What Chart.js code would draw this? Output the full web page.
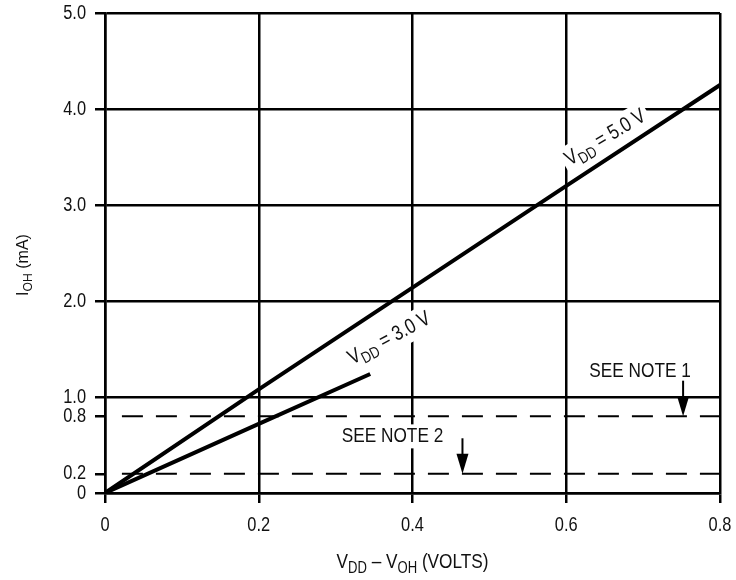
<!DOCTYPE html>
<html>
<head>
<meta charset="utf-8">
<script src="https://cdn.jsdelivr.net/npm/chart.js@4/dist/chart.umd.min.js"></script>
<style>
  html, body { margin: 0; padding: 0; background: #fff; }
  #wrap { width: 736px; height: 580px; }
</style>
</head>
<body>
<div id="wrap"><canvas id="myChart"></canvas></div>
<script>
// axis ticks
const xTicks = [0, 0.2, 0.4, 0.6, 0.8];
const yTicks = [0, 0.2, 0.8, 1.0, 2.0, 3.0, 4.0, 5.0];

// I_OH vs V_DD - V_OH
const vdd5X = [0, 0.2, 0.4, 0.6, 0.8];
const vdd5Y = [0, 1.08, 2.14, 3.2, 4.25];
const vdd3X = [0, 0.2, 0.345];
const vdd3Y = [0, 0.72, 1.24];

// dashed note levels (NOTE 1, NOTE 2) and their x span
const noteLevels = [0.8, 0.2];
const noteSpan = [0.022, 0.8];

// no narrow font installed, so squeeze Liberation Sans horizontally
const FAMILY = "'Liberation Sans', Arial, sans-serif";
const SQUEEZE = 0.82;

const toPoints = (xs, ys) => xs.map((v, i) => ({ x: v, y: ys[i] }));
const fmt = v => v === 0 ? '0' : v.toFixed(1);

// label placement (data coords) and rotation
const curveLabels = [
    { parts: [['V'], ['DD', 1], [' = 5.0 V']], x: 0.651, y: 3.70, angle: -31 },
    { parts: [['V'], ['DD', 1], [' = 3.0 V']], x: 0.370, y: 1.61, angle: -28 }
];
const notes = [
    { text: 'SEE NOTE 1', x: 0.696, y: 1.27, arrowX: 0.752, arrowFrom: 1.17, level: noteLevels[0] },
    { text: 'SEE NOTE 2', x: 0.374, y: 0.59, arrowX: 0.465, arrowFrom: 0.57, level: noteLevels[1] }
];

function richWidth(ctx, parts, size) {
    let w = 0;
    parts.forEach(p => {
        ctx.font = (p[1] ? size * 0.76 : size) + 'px ' + FAMILY;
        w += ctx.measureText(p[0]).width;
    });
    return w;
}

// draws text centred on (cx, cy); parts flagged 1 are subscripts
function drawRich(ctx, parts, cx, cy, size, sx, align) {
    const w = richWidth(ctx, parts, size);
    ctx.save();
    ctx.translate(cx, cy);
    ctx.scale(sx, 1);
    let xx = align === 'right' ? -w : (align === 'left' ? 0 : -w / 2);
    ctx.textAlign = 'left';
    ctx.textBaseline = 'middle';
    parts.forEach(p => {
        ctx.font = (p[1] ? size * 0.76 : size) + 'px ' + FAMILY;
        ctx.fillText(p[0], xx, p[1] ? size * 0.3 : 0);
        xx += ctx.measureText(p[0]).width;
    });
    ctx.restore();
    return w * sx;
}

const overlay = {
    id: 'overlay',
    beforeDatasetsDraw(chart) {
        const { ctx, scales: { x, y } } = chart;
        ctx.save();
        ctx.fillStyle = '#fff';
        curveLabels.forEach(l => {
            const w = richWidth(ctx, l.parts, 21) * SQUEEZE;
            ctx.save();
            ctx.translate(x.getPixelForValue(l.x), y.getPixelForValue(l.y));
            ctx.rotate(l.angle * Math.PI / 180);
            ctx.fillRect(-w / 2 - 4, -14, w + 8, 28);
            ctx.restore();
        });
        notes.forEach(n => {
            const w = richWidth(ctx, [[n.text]], 21) * SQUEEZE;
            ctx.fillRect(x.getPixelForValue(n.x) - w / 2 - 4, y.getPixelForValue(n.y) - 12, w + 8, 24);
        });
        ctx.restore();
    },
    afterDatasetsDraw(chart) {
        const { ctx, scales: { x, y } } = chart;
        const ca = chart.chartArea;
        ctx.save();
        ctx.fillStyle = '#111';
        ctx.strokeStyle = '#000';

        // tick labels from the library's scales
        x.ticks.forEach(t => drawRich(ctx, [[fmt(t.value)]], x.getPixelForValue(t.value), 525, 20, SQUEEZE, 'center'));
        y.ticks.forEach(t => drawRich(ctx, [[fmt(t.value)]], ca.left - 19, y.getPixelForValue(t.value), 20, SQUEEZE, 'right'));

        curveLabels.forEach(l => {
            ctx.save();
            ctx.translate(x.getPixelForValue(l.x), y.getPixelForValue(l.y));
            ctx.rotate(l.angle * Math.PI / 180);
            drawRich(ctx, l.parts, 0, 0, 21, SQUEEZE, 'center');
            ctx.restore();
        });

        notes.forEach(n => {
            drawRich(ctx, [[n.text]], x.getPixelForValue(n.x), y.getPixelForValue(n.y), 21, SQUEEZE, 'center');
            const ax = x.getPixelForValue(n.arrowX);
            const top = y.getPixelForValue(n.arrowFrom);
            const tip = y.getPixelForValue(n.level);
            ctx.lineWidth = 2;
            ctx.beginPath();
            ctx.moveTo(ax, top);
            ctx.lineTo(ax, tip - 16);
            ctx.stroke();
            ctx.beginPath();
            ctx.moveTo(ax - 6, tip - 20);
            ctx.lineTo(ax + 6, tip - 20);
            ctx.lineTo(ax, tip);
            ctx.closePath();
            ctx.fillStyle = '#000';
            ctx.fill();
            ctx.fillStyle = '#111';
        });

        // axis titles with subscripts
        drawRich(ctx, [['V'], ['DD', 1], [' \u2013 V'], ['OH', 1], [' (VOLTS)']], (ca.left + ca.right) / 2, 562, 21, SQUEEZE, 'center');
        ctx.save();
        ctx.translate(24, 265);
        ctx.rotate(-Math.PI / 2);
        drawRich(ctx, [['I'], ['OH', 1], [' (mA)']], 0, 0, 16, 1, 'center');
        ctx.restore();
        ctx.restore();
    }
};

const datasets = [
    {
        label: 'VDD = 5.0 V',
        data: toPoints(vdd5X, vdd5Y),
        borderColor: '#000',
        borderWidth: 4,
        pointRadius: 0,
        tension: 0
    },
    {
        label: 'VDD = 3.0 V',
        data: toPoints(vdd3X, vdd3Y),
        borderColor: '#000',
        borderWidth: 4,
        pointRadius: 0,
        tension: 0
    }
];
noteLevels.forEach((lvl, i) => {
    datasets.push({
        label: 'NOTE ' + (i + 1),
        data: noteSpan.map(v => ({ x: v, y: lvl })),
        borderColor: '#000',
        borderWidth: 2,
        borderDash: [21, 13],
        pointRadius: 0
    });
});

const noPad = s => { s.paddingTop = 0; s.paddingBottom = 0; s.paddingLeft = 0; s.paddingRight = 0; };

const config = {
    type: 'line',
    data: { datasets: datasets },
    options: {
        animation: false,
        responsive: true,
        maintainAspectRatio: false,
        layout: { padding: { top: 13, right: 16, bottom: 0, left: 0 } },
        plugins: {
            legend: { display: false },
            tooltip: { enabled: false }
        },
        scales: {
            x: {
                type: 'linear',
                min: 0,
                max: 0.8,
                afterBuildTicks: s => { s.ticks = xTicks.map(v => ({ value: v })); },
                afterFit: s => { s.height = 87; noPad(s); },
                ticks: { display: false },
                grid: { color: '#000', lineWidth: 2.5, tickLength: 10, tickColor: '#000', tickWidth: 2.5 },
                border: { color: '#000', width: 2.5 }
            },
            y: {
                type: 'linear',
                min: 0,
                max: 5,
                afterBuildTicks: s => { s.ticks = yTicks.map(v => ({ value: v })); },
                afterFit: s => { s.width = 105; noPad(s); },
                ticks: { display: false },
                grid: {
                    color: c => (c.tick && noteLevels.includes(c.tick.value)) ? 'rgba(0,0,0,0)' : '#000',
                    lineWidth: 2.5,
                    tickLength: 10,
                    tickColor: '#000',
                    tickWidth: 2.5
                },
                border: { color: '#000', width: 2.5 }
            }
        }
    },
    plugins: [overlay]
};

const myChart = new Chart(document.getElementById('myChart').getContext('2d'), config);
</script>
</body>
</html>
